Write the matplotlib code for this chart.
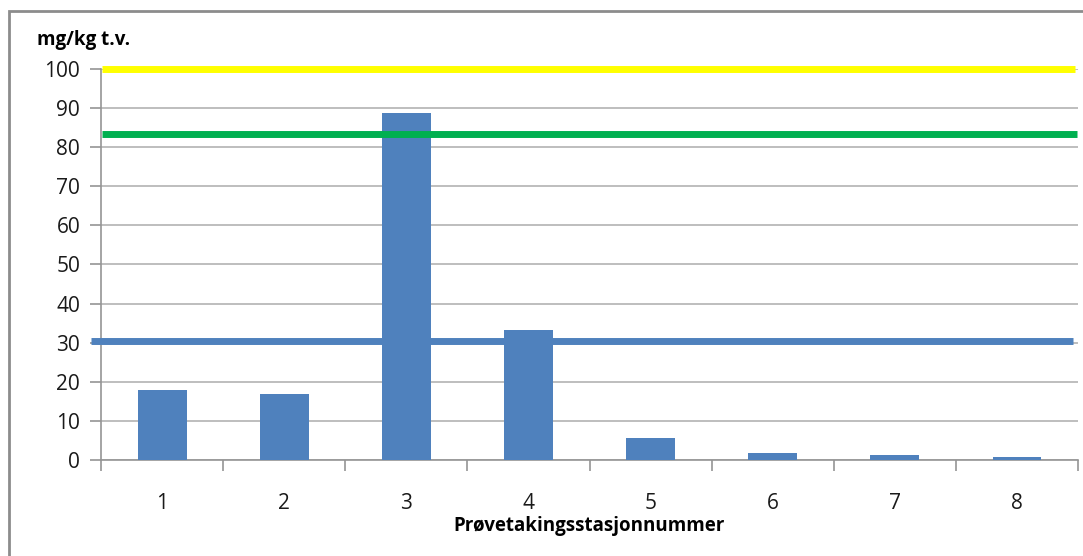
import matplotlib
matplotlib.use("Agg")
import matplotlib.pyplot as plt
from matplotlib.patches import Rectangle
import numpy as np

# data
stasjoner = ["1", "2", "3", "4", "5", "6", "7", "8"]
verdier = [17.8, 16.9, 88.8, 33.2, 5.5, 1.9, 1.3, 0.85]
grense_gul = 100
grense_gronn = 83.3
grense_bla = 30.4

plt.rcParams['font.family'] = ['Open Sans', 'DejaVu Sans']

fig = plt.figure(figsize=(10.83, 5.56), dpi=100)
ax = fig.add_axes([0.0933, 0.1727, 0.9021, 0.7032])

x = np.arange(1, len(stasjoner) + 1)
ax.bar(x, verdier, width=0.4, color="#4F81BD", zorder=3)

ax.axhline(grense_gul, xmin=0.001, xmax=0.997, color="#FFFF00", lw=5, zorder=4,
           clip_on=False, solid_capstyle="butt")
ax.axhline(grense_gronn, xmin=0.001, xmax=0.999, color="#00B050", lw=5, zorder=4,
           clip_on=False, solid_capstyle="butt")
ax.axhline(grense_bla, xmin=-0.01, xmax=0.995, color="#4F81BD", lw=5, zorder=4,
           clip_on=False, solid_capstyle="butt")

ax.set_xlim(0.5, 8.5)
ax.set_ylim(0, 100)
ax.set_yticks(np.arange(0, 101, 10))
ax.set_xticks(x)
ax.set_xticklabels(stasjoner)
ax.set_xticks(np.arange(0.5, 8.6, 1), minor=True)
ax.yaxis.grid(True, color="#B3B3B3", lw=1.2, zorder=0)

for s in ["top", "right"]:
    ax.spines[s].set_visible(False)
for s in ["left", "bottom"]:
    ax.spines[s].set_color("#959595")
    ax.spines[s].set_linewidth(1.2)

ax.tick_params(axis="y", length=8, width=1.2, color="#959595", labelsize=15,
               pad=7, labelcolor="#1a1a1a")
ax.tick_params(axis="x", which="major", length=0, labelsize=15, pad=24,
               labelcolor="#1a1a1a")
ax.tick_params(axis="x", which="minor", length=8, width=1.2, color="#959595")

ax.set_xlabel("Prøvetakingsstasjonnummer", fontsize=13.5, fontweight="bold",
              labelpad=1)
fig.text(0.034, 0.928, "mg/kg t.v.", fontsize=13.5, fontweight="bold",
         ha="left", va="center")

fig.patches.append(Rectangle((0.0085, -0.05), 1.1, 1.03, transform=fig.transFigure,
                             fill=False, edgecolor="#8C8C8C", lw=2))

fig.savefig("out.png", dpi=100)
